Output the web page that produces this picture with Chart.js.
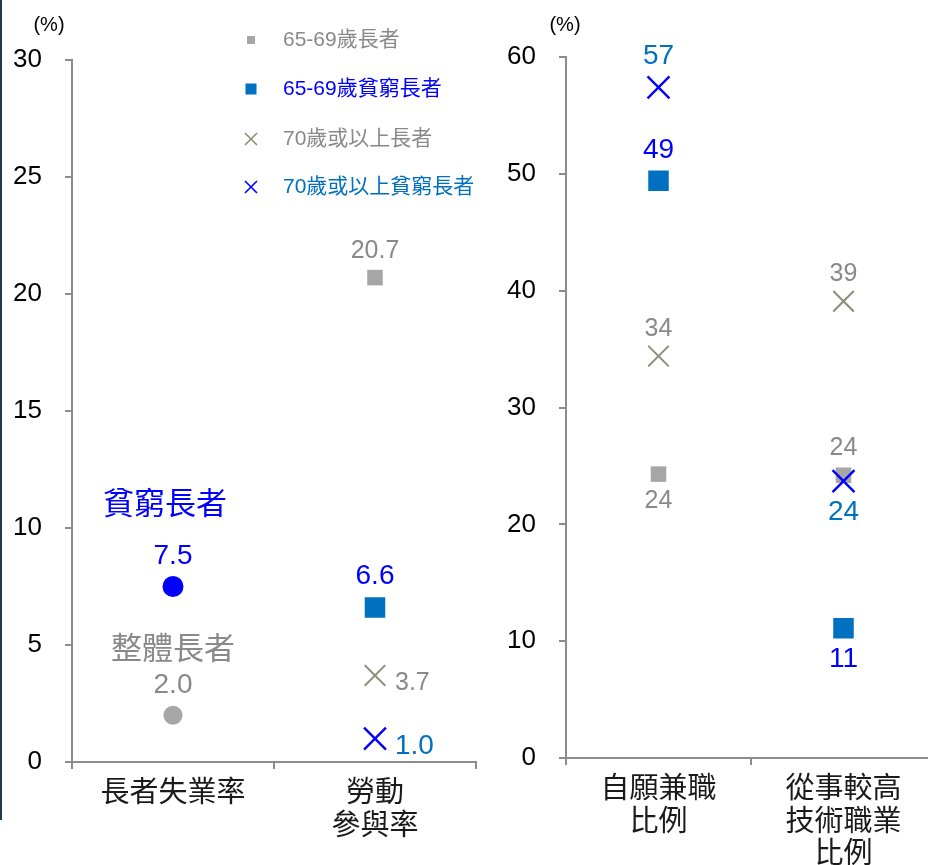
<!DOCTYPE html>
<html>
<head>
<meta charset="utf-8">
<script src="https://cdn.jsdelivr.net/npm/chart.js@4.4.0/dist/chart.umd.min.js"></script>
<style>
  html, body { margin: 0; padding: 0; background: #fff; width: 928px; height: 865px; overflow: hidden; }
  #edge  { position: absolute; left: 0; top: 0; width: 2px; height: 820px; background: #1f3a4c; }
  #left  { position: absolute; left: 0; top: 0; }
  #right { position: absolute; left: 480px; top: 0; }
</style>
</head>
<body>
<div id="edge"></div>
<canvas id="left" width="480" height="865"></canvas>
<canvas id="right" width="456" height="865"></canvas>
<script>
/* global Chart */

// ── Data ───────────────────────────────────────────────────────────────────

const leftCategories  = ['長者失業率', ['勞動', '參與率']];
const rightCategories = [['自願兼職', '比例'], ['從事較高', '技術職業', '比例']];

const leftTicks  = { max: 30, step: 5 };
const rightTicks = { max: 60, step: 10 };

// left panel: unemployment (all vs poor), labour participation by age group
const overallElderly = [2.0, null];
const poorElderly    = [7.5, null];
const age6569L       = [null, 20.7];
const age6569PoorL   = [null, 6.6];
const age70plusL     = [null, 3.7];
const age70plusPoorL = [null, 1.0];

// right panel: part-time by choice, higher-skilled jobs
const age6569R       = [24.3, 24.2];
const age6569PoorR   = [49.4, 11.1];
const age70plusR     = [34.4, 39.1];
const age70plusPoorR = [57.4, 23.7];

// ── Styles ─────────────────────────────────────────────────────────────────

const GREY_MARK = '#a6a6a6';
const GREY_TEXT = '#898989';
const OLIVE     = '#8c8c78';
const BLUE      = '#0000ff';
const MID_BLUE  = '#0070c0';
const AXIS      = '#8c8c8c';
const NUM_FONT  = '"Liberation Sans", Arial, sans-serif';
const CJK_FONT  = '"Liberation Sans", "Noto Sans CJK TC", sans-serif';

const SERIES = {
  age6569:       { legend: '65-69歲長者',        style: 'rect',     r: 11,   bw: 0,   mark: GREY_MARK, text: GREY_TEXT, size: 25, lr: 5.7 },
  age6569Poor:   { legend: '65-69歲貧窮長者',    style: 'rect',     r: 14.5, bw: 0,   mark: MID_BLUE,  text: BLUE,      size: 28, lr: 7.8 },
  age70plus:     { legend: '70歲或以上長者',     style: 'crossRot', r: 14.5, bw: 2,   mark: OLIVE,     text: GREY_TEXT, size: 25, lr: 8.5 },
  age70plusPoor: { legend: '70歲或以上貧窮長者', style: 'crossRot', r: 15.5, bw: 2.4, mark: BLUE,      text: MID_BLUE,  size: 28, lr: 8.5 },
};

function ds(key, data, labelPos, order, withLegend) {
  const s = SERIES[key];
  return {
    data, labelPos, order,
    legendText: withLegend ? s.legend : null,
    legendRadius: s.lr,
    showLine: false,
    pointStyle: s.style,
    pointRadius: s.r,
    pointHoverRadius: s.r,
    pointBorderWidth: s.bw,
    pointBackgroundColor: s.mark,
    pointBorderColor: s.mark,
    labelColor: s.text,
    labelSize: s.size,
    labelGap: s.size > 26 ? 31 : 27,
  };
}

function circle(data, color, r, textColor, note, noteOffset) {
  return {
    data, labelPos: ['top', 'top'], order: 1,
    showLine: false,
    pointStyle: 'circle',
    pointRadius: r,
    pointHoverRadius: r,
    pointBorderWidth: 0,
    pointBackgroundColor: color,
    pointBorderColor: color,
    labelColor: textColor,
    labelSize: 28,
    labelGap: 30,
    note, noteOffset,
  };
}

// ── Plugins ────────────────────────────────────────────────────────────────

const pointLabels = {
  id: 'pointLabels',
  afterDatasetsDraw(chart, args, opts) {
    const ctx = chart.ctx;
    chart.data.datasets.forEach((set, i) => {
      const meta = chart.getDatasetMeta(i);
      meta.data.forEach((pt, j) => {
        const v = set.data[j];
        if (v == null) return;
        const pos = set.labelPos[j];
        ctx.save();
        ctx.font = set.labelSize + 'px ' + NUM_FONT;
        ctx.fillStyle = set.labelColor;
        ctx.textBaseline = 'middle';
        let x = pt.x, y = pt.y;
        if (pos === 'right') {
          ctx.textAlign = 'left';
          x += 20; y += 8;
        } else {
          ctx.textAlign = 'center';
          y += pos === 'top' ? -set.labelGap : set.labelGap;
        }
        ctx.fillText(opts.format(v), x, y);
        if (set.note) {
          ctx.font = '31px ' + CJK_FONT;
          ctx.textAlign = 'center';
          ctx.fillText(set.note, pt.x + set.noteOffset[0], pt.y + set.noteOffset[1]);
        }
        ctx.restore();
      });
    });
  }
};

const unitLabel = {
  id: 'unitLabel',
  afterDraw(chart, args, opts) {
    const ctx = chart.ctx;
    ctx.save();
    ctx.font = '20px ' + NUM_FONT;
    ctx.fillStyle = '#000';
    ctx.textAlign = 'center';
    ctx.textBaseline = 'middle';
    ctx.fillText('(%)', chart.chartArea.left + opts.dx, 25);
    ctx.restore();
  }
};

const sideLegend = {
  id: 'sideLegend',
  afterDraw(chart, args, opts) {
    if (!opts.show) return;
    const ctx = chart.ctx;
    const items = chart.data.datasets.filter(d => d.legendText);
    items.forEach((d, k) => {
      const y = opts.rows[k];
      ctx.save();
      ctx.fillStyle = d.pointBackgroundColor;
      ctx.strokeStyle = d.pointBorderColor;
      ctx.lineWidth = 1.6;
      Chart.helpers.drawPoint(ctx, {
        pointStyle: d.pointStyle, rotation: 0, radius: d.legendRadius,
        borderWidth: d.pointStyle === 'crossRot' ? 1.6 : 0,
      }, opts.x, y);
      ctx.font = '21px ' + CJK_FONT;
      ctx.fillStyle = d.labelColor;
      ctx.textAlign = 'left';
      ctx.textBaseline = 'middle';
      ctx.fillText(d.legendText, opts.x + 32, y);
      ctx.restore();
    });
  }
};

// ── Charts ─────────────────────────────────────────────────────────────────

function makeChart(id, categories, datasets, ticks, box, fmt, unitDx, legend) {
  return new Chart(document.getElementById(id), {
    type: 'line',
    data: { labels: categories, datasets },
    options: {
      responsive: false,
      animation: false,
      devicePixelRatio: 1,
      layout: { autoPadding: false, padding: { top: box.top, right: box.right, left: 0, bottom: 0 } },
      plugins: {
        legend: { display: false },
        tooltip: { enabled: false },
        pointLabels: { format: fmt },
        unitLabel: { dx: unitDx },
        sideLegend: legend,
      },
      scales: {
        x: {
          offset: true,
          grid: { offset: true, drawOnChartArea: false, tickLength: 7, color: AXIS, lineWidth: 2 },
          border: { color: AXIS, width: 2 },
          ticks: {
            color: '#1a1a1a', padding: 9, maxRotation: 0, autoSkip: false,
            font: { family: CJK_FONT, size: 29, lineHeight: 1.12 },
          },
          afterFit(s) { s.height = box.xh; s.paddingLeft = 0; s.paddingRight = 0; },
        },
        y: {
          min: 0, max: ticks.max,
          grid: { drawOnChartArea: false, tickLength: 7, color: AXIS, lineWidth: 2 },
          border: { color: AXIS, width: 2 },
          ticks: { stepSize: ticks.step, color: '#000', padding: 23, font: { family: NUM_FONT, size: 26 } },
          afterFit(s) { s.width = box.yw; s.paddingTop = 0; s.paddingBottom = 0; },
        },
      },
    },
    plugins: [pointLabels, unitLabel, sideLegend],
  });
}

makeChart('left', leftCategories, [
  ds('age6569',       age6569L,       ['top', 'top'],     4, true),
  ds('age6569Poor',   age6569PoorL,   ['top', 'top'],     3, true),
  ds('age70plus',     age70plusL,     ['right', 'right'], 2, true),
  ds('age70plusPoor', age70plusPoorL, ['right', 'right'], 1, true),
  circle(overallElderly, GREY_MARK, 9.5, GREY_TEXT, '整體長者', [0, -65]),
  circle(poorElderly, BLUE, 10.5, BLUE, '貧窮長者', [-8, -81]),
], leftTicks, { top: 60, right: 4, xh: 103, yw: 72 },
   v => v.toFixed(1), -23, { show: true, x: 251, rows: [40, 89, 139, 187] });

makeChart('right', rightCategories, [
  ds('age6569',       age6569R,       ['bottom', 'top'], 4, false),
  ds('age6569Poor',   age6569PoorR,   ['top', 'bottom'], 3, false),
  ds('age70plus',     age70plusR,     ['top', 'top'],    2, false),
  ds('age70plusPoor', age70plusPoorR, ['top', 'bottom'], 1, false),
], rightTicks, { top: 57, right: 0, xh: 107, yw: 86 },
   v => String(Math.round(v)), -1, { show: false });
</script>
</body>
</html>
